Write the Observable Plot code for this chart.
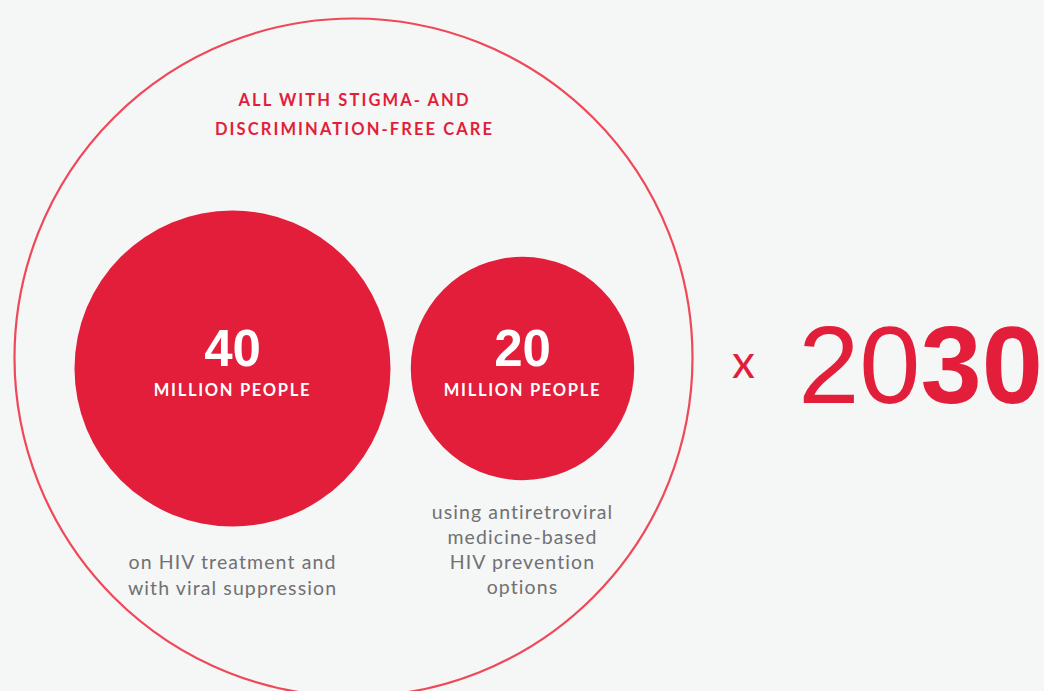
<!DOCTYPE html>
<html>
<head>
<meta charset="utf-8">
<script src="https://cdn.jsdelivr.net/npm/d3@7"></script>
<script src="https://cdn.jsdelivr.net/npm/@observablehq/plot@0.6"></script>
<style>
  html, body { margin: 0; padding: 0; background: #f5f6f6; }
  #chart svg { display: block; background: #f5f6f6; }
</style>
</head>
<body>
<div id="chart"></div>
<script>
// ---- data ----
const circleNames = ["treatment", "prevention"];
const circleValues = [40, 20];
const circleLabels = ["40", "20"];
const circleUnits = ["MILLION PEOPLE", "MILLION PEOPLE"];
const circleDescriptions = [
  ["on HIV treatment and", "with viral suppression"],
  ["using antiretroviral", "medicine-based", "HIV prevention", "options"]
];
const headlineLines = ["ALL WITH STIGMA- AND", "DISCRIMINATION-FREE CARE"];
const multiplier = "x";
const yearParts = ["20", "30"];

// ---- layout (positions / sizes / styles) ----
const W = 1044, H = 691;
const RED = "#e31e3b", RING = "#ef4858", GRAY = "#707174";
const outer = {x: 353, y: 357, r: 339};
const circleCx = [232, 522];
const circleCy = 368;
const maxR = 158;
const headlineY0 = 105, headlineStep = 29;
const descY0 = [568, 518], descStep = [26, 25];
const spacing = [[circleUnits, "1.7px"], [headlineLines, "2.1px"], [circleDescriptions.flat(), "1.1px"]];

const circles = circleNames.map((n, i) => ({name: n, value: circleValues[i], cx: circleCx[i], cy: circleCy,
  label: circleLabels[i], unit: circleUnits[i]}));
const descRows = circleDescriptions.flatMap((lines, i) =>
  lines.map((t, j) => ({text: t, x: circleCx[i], y: descY0[i] + j * descStep[i]})));
const headRows = headlineLines.map((t, j) => ({text: t, x: outer.x + 1, y: headlineY0 + j * headlineStep}));

const chart = Plot.plot({
  width: W, height: H,
  margin: 0,
  style: {background: "#f5f6f6"},
  x: {domain: [0, W], range: [0, W], axis: null},
  y: {domain: [0, H], range: [0, H], axis: null},
  r: {domain: [0, d3.max(circleValues)], range: [0, maxR]},
  marks: [
    Plot.dot([outer], {x: "x", y: "y", r: outer.r, stroke: RING, strokeWidth: 2.2, fill: "none"}),
    Plot.dot(circles, {x: "cx", y: "cy", r: "value", fill: RED, stroke: "none"}),
    Plot.text(circles, {x: "cx", y: d => d.cy - 3, text: "label", fill: "white", fontSize: 51, fontWeight: "bold",
      fontFamily: "Liberation Sans, Arial, sans-serif", lineAnchor: "bottom"}),
    Plot.text(circles, {x: "cx", y: d => d.cy + 27, text: "unit", fill: "white", fontSize: 16.5, fontWeight: "bold",
      fontFamily: "Lato, sans-serif", lineAnchor: "bottom"}),
    Plot.text(headRows, {x: "x", y: "y", text: "text", fill: RED, fontSize: 16.5, fontWeight: "bold",
      fontFamily: "Lato, sans-serif", lineAnchor: "bottom"}),
    Plot.text(descRows, {x: "x", y: "y", text: "text", fill: GRAY, fontSize: 19.5,
      fontFamily: "Lato, sans-serif", lineAnchor: "bottom"}),
    Plot.text([multiplier], {x: 743, y: 377, text: d => d, fill: RED, fontSize: 46,
      fontFamily: "Lato, sans-serif", lineAnchor: "bottom"}),
    Plot.text([yearParts[0]], {x: 920, y: 402, text: d => d, fill: RED, fontSize: 110, textAnchor: "end",
      fontFamily: "Liberation Sans, Arial, sans-serif", lineAnchor: "bottom"}),
    Plot.text([yearParts[1]], {x: 920, y: 402, text: d => d, fill: RED, fontSize: 110, fontWeight: "bold", textAnchor: "start",
      fontFamily: "Liberation Sans, Arial, sans-serif", lineAnchor: "bottom"})
  ]
});
d3.select(chart).selectAll("text").each(function() {
  const t = this.textContent;
  for (const [list, v] of spacing) {
    if (list.includes(t)) {
      this.setAttribute("letter-spacing", v);
      this.style.letterSpacing = v;
    }
  }
});
document.getElementById("chart").appendChild(chart);
</script>
</body>
</html>
